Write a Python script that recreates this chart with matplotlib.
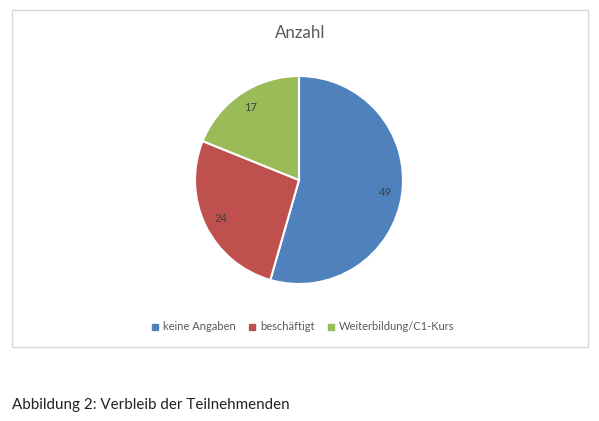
import matplotlib
matplotlib.use("Agg")
import matplotlib.pyplot as plt
from matplotlib.patches import Rectangle
from matplotlib.lines import Line2D

categories = ["keine Angaben", "beschäftigt", "Weiterbildung/C1-Kurs"]
values = [49, 24, 17]
colors = ["#4F81BD", "#C0504D", "#9BBB59"]
title = "Anzahl"
caption = "Abbildung 2: Verbleib der Teilnehmenden"

W, H = 599, 421
plt.rcParams['font.family'] = ['Lato', 'DejaVu Sans']
fig = plt.figure(figsize=(W / 100, H / 100), dpi=100)

# chart frame
fig.patches.append(Rectangle((12 / W, 1 - 347 / H), 576 / W, 337 / H,
                             transform=fig.transFigure, fill=False,
                             edgecolor="#D9D9D9", linewidth=1.0))

cx, cy, r = 299, 180, 104
ax = fig.add_axes([(cx - r) / W, 1 - (cy + r) / H, 2 * r / W, 2 * r / H])
total = sum(values)
wedges, texts, autotexts = ax.pie(
    values, colors=colors, startangle=90, counterclock=False,
    autopct=lambda p: f"{round(p * total / 100)}", pctdistance=0.84,
    wedgeprops=dict(edgecolor="white", linewidth=1.5),
    textprops=dict(color="#404040", fontsize=8))
ax.set_xlim(-1.0, 1.0)
ax.set_ylim(-1.0, 1.0)
ax.set_aspect("equal")
ax.axis("off")

fig.text(300 / W, 1 - 33 / H, title, ha="center", va="center",
         fontsize=12.2, color="#595959")

handles = [Line2D([0], [0], marker="s", linestyle="none", markersize=4,
                  markerfacecolor=c, markeredgecolor=c) for c in colors]
fig.legend(handles, categories, loc="center", bbox_to_anchor=(303 / W, 1 - 327 / H),
           ncol=3, frameon=False, fontsize=8.0, labelcolor="#595959",
           handlelength=0.6, handletextpad=0.4, columnspacing=1.2)

fig.text(12 / W, 1 - 405 / H, caption, ha="left", va="center",
         fontsize=10.9, color="#222222")

fig.savefig("out.png", dpi=100, facecolor="white")
